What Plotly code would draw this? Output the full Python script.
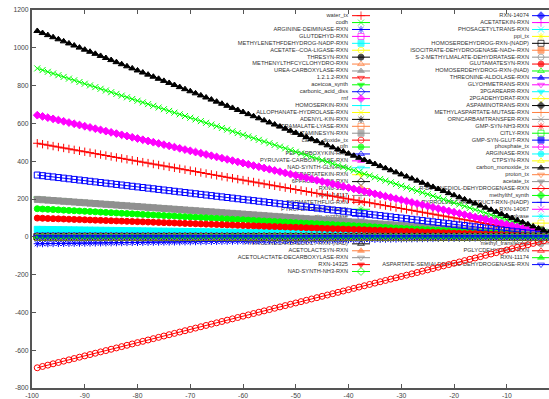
import plotly.graph_objects as go

# Swept bound (x) and the reactions whose fluxes respond to it
sweep = list(range(-99, 0))

left_names = [
    "water_tx", "codh", "ARGININE-DEIMINASE-RXN", "GLUTDEHYD-RXN",
    "METHYLENETHFDEHYDROG-NADP-RXN", "ACETATE--COA-LIGASE-RXN", "THRESYN-RXN",
    "METHENYLTHFCYCLOHYDRO-RXN", "UREA-CARBOXYLASE-RXN", "1.2.1.2-RXN",
    "acetcoa_synth", "carbonic_acid_diss", "rnf", "HOMOSERKIN-RXN",
    "ALLOPHANATE-HYDROLASE-RXN", "ADENYL-KIN-RXN", "CITRAMALATE-LYASE-RXN",
    "GLUTAMINESYN-RXN", "carbon_dioxide_tx", "pfn", "PEPCARBOXYKIN-RXN",
    "PYRUVATE-CARBOXYLASE-RXN", "NAD-SYNTH-GLN-RXN", "ASPARTATEKIN-RXN",
    "6PFRUCTPHOS-RXN", "RXN0-5114", "RXN-14117", "FORMATETHFLIG-RXN",
    "PYRUFLAVREDUCT-RXN", "atp_synthase", "ASPARTATE-AMMONIA-LYASE-RXN",
    "GLYCINE-AMINOTRANSFERASE-RXN", "PRPPSYN-RXN",
    "PYRROLINECARBREDUCT-RXN-(NAD)", "ACETOLACTSYN-RXN",
    "ACETOLACTATE-DECARBOXYLASE-RXN", "RXN-14325", "NAD-SYNTH-NH3-RXN",
]
right_names = [
    "RXN-14074", "ACETATEKIN-RXN", "PHOSACETYLTRANS-RXN", "ppi_tx",
    "HOMOSERDEHYDROG-RXN-(NADP)", "ISOCITRATE-DEHYDROGENASE-NAD+-RXN",
    "S-2-METHYLMALATE-DEHYDRATASE-RXN", "GLUTAMATESYN-RXN",
    "HOMOSERDEHYDROG-RXN-(NAD)", "THREONINE-ALDOLASE-RXN", "GLYOHMETRANS-RXN",
    "3PGAREARR-RXN", "2PGADEHYDRAT-RXN", "ASPAMINOTRANS-RXN",
    "METHYLASPARTATE-MUTASE-RXN", "ORNCARBAMTRANSFER-RXN", "GMP-SYN-NH3-RXN",
    "CITLY-RXN", "GMP-SYN-GLUT-RXN", "phosphate_tx", "ARGINASE-RXN",
    "CTPSYN-RXN", "carbon_monoxide_tx", "proton_tx", "acetate_tx",
    "R-BUTANEDIOL-DEHYDROGENASE-RXN", "methylthf_synth",
    "PYRROLINECARBREDUCT-RXN-(NADP)", "RXN-14067", "formate_hydrogenlyase",
    "ammonia_tx", "GLUTAMATE-DEHYDROGENASE", "h2_tx", "methyl_transferase",
    "PGLYCDEHYDROG-RXN", "RXN-11174",
    "ASPARTATE-SEMIALDEHYDE-DEHYDROGENASE-RXN",
]
names = left_names + right_names

# Flux per unit of the swept bound; reactions not listed stay at zero
flux_per_unit = {
    "carbon_monoxide_tx": -11.0,
    "codh": -9.0,
    "rnf": -6.5,
    "water_tx": -5.0,
    "atp_synthase": -3.3,
    "acetcoa_synth": -2.05,
    "GLUTAMINESYN-RXN": -2.0,
    "pfn": -1.5,
    "GLUTAMATESYN-RXN": -1.0,
    "METHYLENETHFDEHYDROG-NADP-RXN": -0.4,
    "GMP-SYN-GLUT-RXN": -0.03,
    "ARGININE-DEIMINASE-RXN": 0.37,
    "carbon_dioxide_tx": 7.0,
}

x_ticks = [-100, -90, -80, -70, -60, -50, -40, -30, -20, -10]
y_ticks = [-800, -600, -400, -200, 0, 200, 400, 600, 800, 1000, 1200]

palette = ["#ff0000", "#00ff00", "#0000ff", "#ff00ff", "#00ffff",
           "#ffff00", "#000000", "#ff8040", "#909090"]
symbols = ["cross-thin-open", "x-thin-open", "asterisk-open", "square-open",
           "square", "circle-open", "circle", "triangle-up-open",
           "triangle-up", "triangle-down-open", "triangle-down",
           "diamond-open", "diamond"]

W, H = 549, 399
ML, MR, MT, MB = 32, 0, 10, 8
TXT = "Liberation Sans, Arial, sans-serif"

fig = go.Figure()

# Key drawn underneath the curves, in pixel units of the plotting area
row0, row_h = 15.7, 6.97
cols = [(left_names, 0), (right_names, len(left_names))]
col_geom = [(348, 352, 361, 370), (529, 532, 541, 549)]
for (col_names, offset), (tx, s0, sm, s1) in zip(cols, col_geom):
    rows = [row0 + row_h * i for i in range(len(col_names))]
    fig.add_trace(go.Scatter(
        x=[tx] * len(col_names), y=rows, text=col_names, mode="text",
        textposition="middle left",
        textfont=dict(family=TXT, size=5.7, color="#333333"),
        xaxis="x", yaxis="y", showlegend=False, hoverinfo="skip"))
    for i, nm in enumerate(col_names):
        k = offset + i
        c = palette[k % len(palette)]
        fig.add_trace(go.Scatter(
            x=[s0, sm, s1], y=[rows[i]] * 3, mode="lines+markers",
            line=dict(color=c, width=1),
            marker=dict(symbol=symbols[k % len(symbols)], size=[0, 6, 0],
                        color=c, line=dict(color=c, width=1)),
            xaxis="x", yaxis="y", showlegend=False, hoverinfo="skip"))

# Flux curves
for k, nm in enumerate(names):
    c = palette[k % len(palette)]
    coef = flux_per_unit.get(nm, 0.0)
    fig.add_trace(go.Scatter(
        x=sweep, y=[coef * v for v in sweep], name=nm,
        mode="lines+markers", line=dict(color=c, width=1),
        marker=dict(symbol=symbols[k % len(symbols)], size=6, color=c,
                    line=dict(color=c, width=1)),
        xaxis="x2", yaxis="y2", showlegend=False))

axis_col = "#555555"
fig.update_layout(
    width=W, height=H,
    margin=dict(l=ML, r=MR, t=MT, b=MB, pad=0),
    paper_bgcolor="white", plot_bgcolor="white",
    showlegend=False,
    xaxis=dict(domain=[0, 1], range=[ML, W - MR], visible=False,
               fixedrange=True),
    yaxis=dict(domain=[0, 1], range=[H - MB, MT], visible=False,
               fixedrange=True),
    xaxis2=dict(overlaying="x", anchor="y2", side="bottom",
                range=[-100, -2], tickvals=x_ticks,
                ticktext=[str(v) for v in x_ticks],
                showgrid=False, zeroline=False,
                showline=True, linecolor=axis_col, linewidth=1.5,
                mirror="ticks", ticks="inside", ticklen=4,
                tickcolor=axis_col, tickwidth=1,
                tickfont=dict(family=TXT, size=6.8, color="#444444")),
    yaxis2=dict(overlaying="y", anchor="x2", side="left",
                range=[-800, 1200], tickvals=y_ticks,
                ticktext=[str(v) for v in y_ticks],
                showgrid=False, zeroline=False,
                showline=True, linecolor=axis_col, linewidth=2,
                ticks="inside", ticklen=4, tickcolor=axis_col, tickwidth=1,
                tickfont=dict(family=TXT, size=6.8, color="#444444")),
)

fig.write_html("out.html")
